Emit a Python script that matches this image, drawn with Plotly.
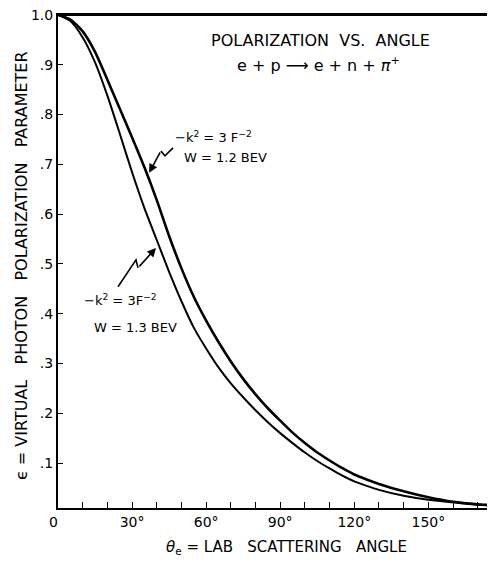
import plotly.graph_objects as go

# Lab scattering angle (degrees) and virtual photon polarization parameter
angle_w12 = [0, 5, 10, 15, 20, 25, 30, 35, 40, 45, 50, 55, 60, 65, 70, 75, 80, 85, 90,
             95, 100, 105, 110, 115, 120, 125, 130, 140, 150, 160, 170, 177]
eps_w12 = [1.0, 0.991, 0.967, 0.926, 0.870, 0.812, 0.754, 0.694, 0.628, 0.556, 0.491, 0.434,
           0.386, 0.343, 0.304, 0.269, 0.238, 0.210, 0.185, 0.161, 0.140, 0.121, 0.105,
           0.090, 0.077, 0.067, 0.058, 0.043, 0.031, 0.022, 0.017, 0.015]

angle_w13 = [0, 5, 10, 15, 20, 25, 30, 35, 40, 45, 50, 55, 60, 65, 70, 75, 80, 85, 90,
             95, 100, 105, 110, 115, 120, 125, 130, 140, 150, 160, 170, 177]
eps_w13 = [1.0, 0.988, 0.955, 0.905, 0.838, 0.762, 0.684, 0.612, 0.548, 0.484, 0.425, 0.372,
           0.330, 0.292, 0.260, 0.232, 0.206, 0.182, 0.160, 0.140, 0.121, 0.104, 0.089,
           0.075, 0.063, 0.054, 0.046, 0.034, 0.026, 0.021, 0.016, 0.015]

S = "\u00a0"
x_ticks = list(range(0, 180, 10))
x_tick_text = [("0" + S + S) if v == 0 else (f"{v}°" if v % 30 == 0 and v <= 150 else "")
               for v in x_ticks]
y_ticks = [0.1, 0.2, 0.3, 0.4, 0.5, 0.6, 0.7, 0.8, 0.9, 1.0]
y_tick_text = [".1", ".2", ".3", ".4", ".5", ".6", ".7", ".8", ".9", "1.0"]

FONT = "DejaVu Sans"

fig = go.Figure()
fig.add_trace(go.Scatter(x=angle_w12, y=eps_w12, mode="lines",
                         line=dict(color="black", width=2.6, shape="spline", smoothing=0.6),
                         showlegend=False, hoverinfo="skip"))
fig.add_trace(go.Scatter(x=angle_w13, y=eps_w13, mode="lines",
                         line=dict(color="black", width=2.0, shape="spline", smoothing=0.6),
                         showlegend=False, hoverinfo="skip"))

def txt(text, x, y, xref="x", yref="y", size=13, xanchor="left", angle=0):
    return dict(text=text, x=x, y=y, xref=xref, yref=yref, showarrow=False,
                xanchor=xanchor, yanchor="middle", textangle=angle,
                font=dict(size=size, family=FONT, color="black"))

ann = []
# Title block
ann.append(txt(f"POLARIZATION{S}{S}VS.{S}{S}ANGLE", 0.60, 0.949, "paper", "paper", 16, "center"))
ann.append(txt(f"e + p ⟶ e + n + <i>π</i><sup>+</sup>", 0.597, 0.899, "paper", "paper", 16, "center"))
# Curve labels
ann.append(txt("−k<sup>2</sup> = 3 F<sup>−2</sup>", 46.6, 0.754))
ann.append(txt("W = 1.2 BEV", 50.2, 0.713))
ann.append(txt("−k<sup>2</sup> = 3F<sup>−2</sup>", 9.7, 0.4275))
ann.append(txt("W = 1.3 BEV", 13.8, 0.373))
# Pointer arrow heads (squiggle tails drawn as shapes below)
ann.append(dict(text="", x=36.9, y=0.683, ax=41.7, ay=0.727, xref="x", yref="y", axref="x", ayref="y",
                showarrow=True, arrowhead=2, arrowsize=1.1, arrowwidth=1.6, arrowcolor="black"))
ann.append(dict(text="", x=39.7, y=0.532, ax=32.4, ay=0.492, xref="x", yref="y", axref="x", ayref="y",
                showarrow=True, arrowhead=2, arrowsize=1.1, arrowwidth=1.6, arrowcolor="black"))
# Axis titles
ann.append(txt(f"<i>θ</i><sub>e</sub>{S}={S}LAB{S}{S}{S}SCATTERING{S}{S}{S}ANGLE", 0.522, -0.081,
               "paper", "paper", 15, "center"))
ann.append(txt(f"ϵ{S}={S}VIRTUAL{S}{S}{S}PHOTON{S}{S}{S}POLARIZATION{S}{S}{S}PARAMETER",
               -0.082, 0.491, "paper", "paper", 16, "center", -90))

shapes = [
    dict(type="path", xref="x", yref="y", path="M 46.6,0.733 L 43.3,0.717 L 41.7,0.727",
         line=dict(color="black", width=1.6)),
    dict(type="path", xref="x", yref="y", path="M 24.3,0.454 L 31.6,0.508 L 32.4,0.492",
         line=dict(color="black", width=1.6)),
    # top frame line
    dict(type="line", xref="paper", yref="paper", x0=0, x1=1, y0=1, y1=1,
         line=dict(color="black", width=2)),
]

fig.update_layout(
    width=487, height=555,
    margin=dict(l=50, r=0, t=7, b=55, autoexpand=False),
    paper_bgcolor="white", plot_bgcolor="white",
    font=dict(family=FONT, color="black", size=14),
    annotations=ann, shapes=shapes,
    showlegend=False,
)
fig.update_xaxes(range=[0, 177], tickmode="array", tickvals=x_ticks, ticktext=x_tick_text,
                 ticks="inside", ticklen=6, tickwidth=1.3, tickcolor="black",
                 showline=True, linecolor="black", linewidth=2, mirror=True, automargin=False,
                 ticklabeloverflow="allow",
                 showgrid=False, zeroline=False, tickfont=dict(size=14, family=FONT))
fig.update_yaxes(range=[0.0096, 1.0], tickmode="array", tickvals=y_ticks, ticktext=y_tick_text,
                 ticks="inside", ticklen=5, tickwidth=1.3, tickcolor="black",
                 showline=True, linecolor="black", linewidth=2, mirror=False, automargin=False,
                 ticklabeloverflow="allow",
                 showgrid=False, zeroline=False, tickfont=dict(size=14, family=FONT))

fig.write_html("out.html")
